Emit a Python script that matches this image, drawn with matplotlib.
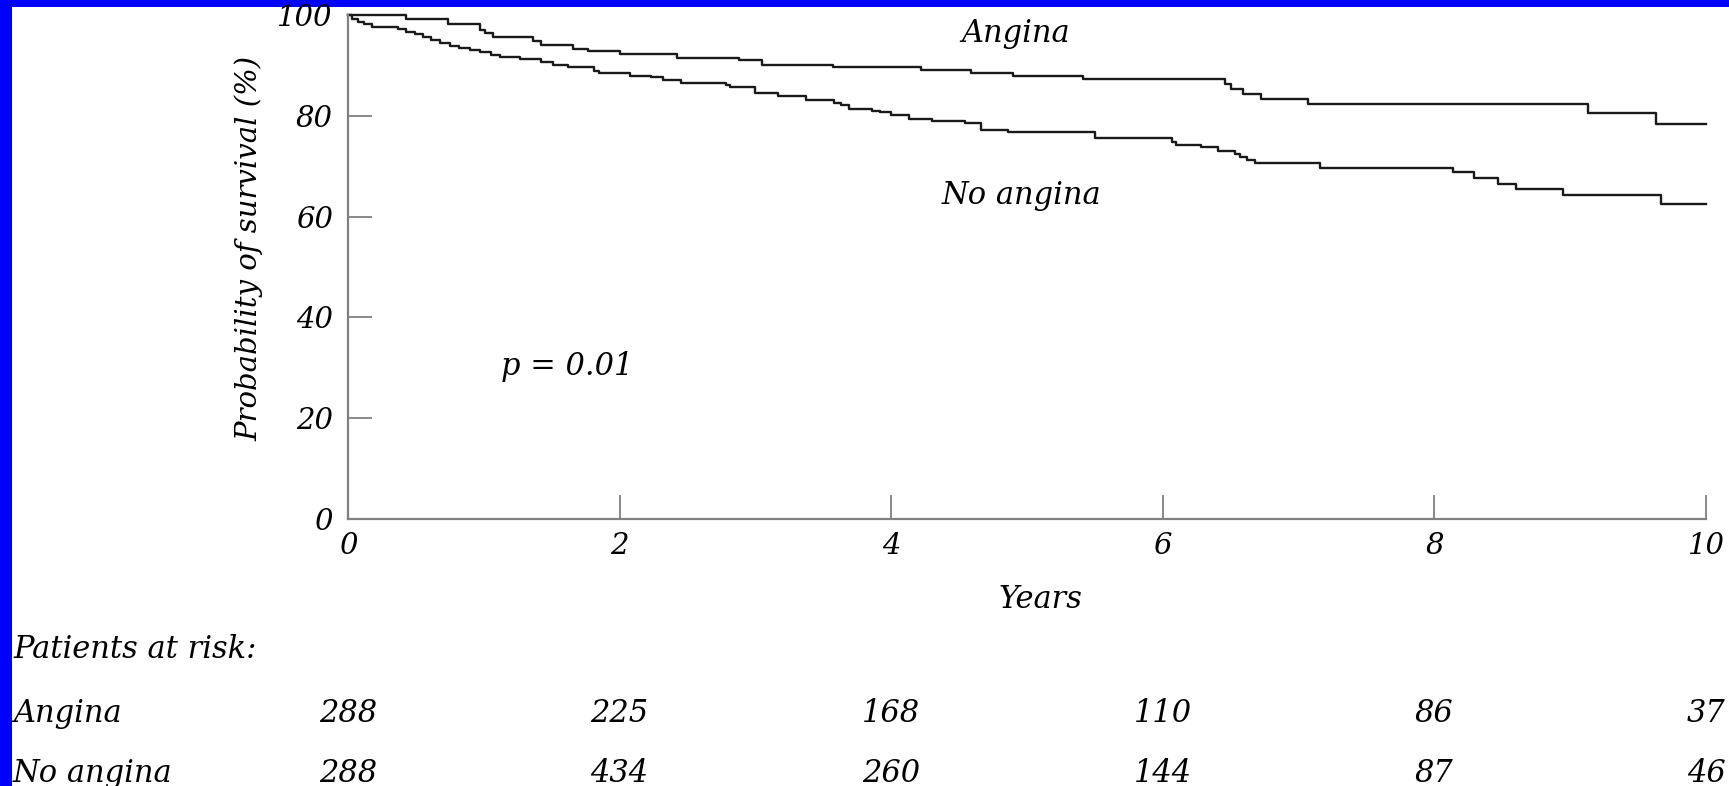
import matplotlib
matplotlib.use("Agg")
import matplotlib.pyplot as plt
from matplotlib.patches import Rectangle
from matplotlib import transforms

# Kaplan-Meier steps: (years, survival %)
angina_t = [0, 0.43, 0.74, 0.97, 1.01, 1.07, 1.36, 1.42, 1.66, 1.77, 2.00,
            2.42, 2.88, 3.05, 3.57, 4.22, 4.59, 4.90, 5.41, 6.46, 6.50,
            6.59, 6.72, 7.07, 9.13, 9.63, 10.0]
angina_s = [100, 99.2, 98.2, 97.0, 96.4, 95.6, 94.9, 94.0, 93.3, 92.9, 92.2,
            91.5, 91.0, 90.1, 89.7, 89.1, 88.4, 87.9, 87.3, 86.4, 85.4,
            84.4, 83.4, 82.3, 80.5, 78.4, 78.4]

no_angina_t = [0, 0.03, 0.07, 0.12, 0.18, 0.37, 0.43, 0.49, 0.55, 0.61, 0.68,
               0.75, 0.82, 0.90, 0.97, 1.05, 1.12, 1.27, 1.42, 1.51, 1.62,
               1.81, 1.85, 2.08, 2.23, 2.32, 2.45, 2.78, 2.81, 3.00, 3.17,
               3.37, 3.58, 3.63, 3.69, 3.86, 3.92, 4.00, 4.13, 4.30, 4.54,
               4.66, 4.86, 5.50, 6.07, 6.10, 6.28, 6.41, 6.53, 6.57, 6.62,
               6.68, 7.16, 8.14, 8.29, 8.47, 8.60, 8.95, 9.67, 10.0]
no_angina_s = [100, 99.3, 98.7, 98.2, 97.7, 97.2, 96.7, 96.2, 95.7, 95.1, 94.4,
               93.9, 93.4, 93.0, 92.6, 92.1, 91.7, 91.3, 90.7, 90.1, 89.6,
               88.9, 88.4, 87.9, 87.6, 87.2, 86.6, 86.2, 85.8, 84.6, 84.0,
               83.1, 82.6, 82.1, 81.3, 81.0, 80.7, 80.2, 79.4, 79.0, 78.5,
               77.2, 76.8, 75.5, 74.8, 74.3, 73.9, 73.1, 72.5, 71.9, 71.3,
               70.6, 69.7, 68.9, 67.7, 66.4, 65.5, 64.2, 62.5, 62.5]

risk_years = [0, 2, 4, 6, 8, 10]
risk_angina = [288, 225, 168, 110, 86, 37]
risk_no_angina = [288, 434, 260, 144, 87, 46]

x_ticks = [0, 2, 4, 6, 8, 10]
y_ticks = [0, 20, 40, 60, 80, 100]

W, H = 1729, 786

plt.rcParams["font.family"] = "DejaVu Serif"
plt.rcParams["font.style"] = "italic"

fig = plt.figure(figsize=(W / 100, H / 100), dpi=100)
fig.patch.set_facecolor("#0000ff")
fig.add_artist(Rectangle((12 / W, 0), 1, 1 - 7 / H, transform=fig.transFigure,
                         fc="white", ec="none", zorder=-10))

ax = fig.add_axes([348 / W, 1 - 519 / H, 1358 / W, 504 / H])
ax.patch.set_visible(False)

ax.step(angina_t, angina_s, where="post", color="#1a1a1a", lw=1.7, clip_on=False)
ax.step(no_angina_t, no_angina_s, where="post", color="#1a1a1a", lw=1.7, clip_on=False)

ax.set_xlim(0, 10)
ax.set_ylim(0, 100)
ax.set_xticks(x_ticks)
ax.set_yticks(y_ticks)

for s in ["top", "right"]:
    ax.spines[s].set_visible(False)
for s in ["left", "bottom"]:
    ax.spines[s].set_color("#808080")
    ax.spines[s].set_linewidth(1.6)

ax.tick_params(direction="in", length=17, width=1.3, color="#808080", labelsize=21)
ax.tick_params(axis="y", pad=11)
ax.tick_params(axis="x", pad=9)

ax.text(4.52, 94.6, "Angina", fontsize=22, va="baseline")
ax.text(4.37, 62.5, "No angina", fontsize=22, va="baseline")
ax.text(1.13, 28.6, "p = 0.01", fontsize=22, va="baseline")

fig.text(249 / W, 1 - 248 / H, "Probability of survival (%)", rotation=90,
         ha="center", va="center", fontsize=21)

trans = transforms.blended_transform_factory(ax.transData, fig.transFigure)
ax.text(5.1, 1 - 608 / H, "Years", transform=trans, ha="center", va="baseline",
        fontsize=22, clip_on=False)

fig.text(13 / W, 1 - 658 / H, "Patients at risk:", va="baseline", fontsize=22)
fig.text(13 / W, 1 - 722 / H, "Angina", va="baseline", fontsize=22)
fig.text(13 / W, 1 - 782 / H, "No angina", va="baseline", fontsize=22)

for x, a, n in zip(risk_years, risk_angina, risk_no_angina):
    ax.text(x, 1 - 722 / H, str(a), transform=trans, ha="center", va="baseline",
            fontsize=22, clip_on=False)
    ax.text(x, 1 - 782 / H, str(n), transform=trans, ha="center", va="baseline",
            fontsize=22, clip_on=False)

fig.savefig("out.png", dpi=100, facecolor=fig.get_facecolor())
